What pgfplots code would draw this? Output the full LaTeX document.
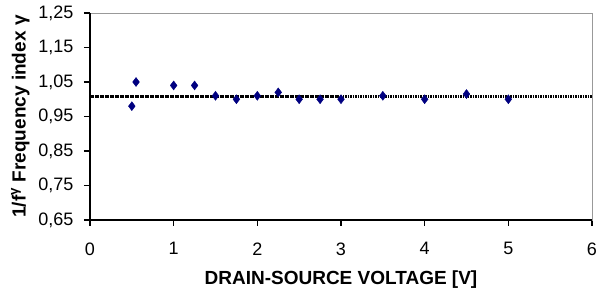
\documentclass[border=0pt]{standalone}
\usepackage{pgfplots}
\pgfplotsset{compat=1.18}
\usetikzlibrary{calc}
\usepackage{fontspec}
\setmainfont{Liberation Sans}
\definecolor{navy}{RGB}{0,0,128}
\begin{document}
\begin{tikzpicture}
\begin{axis}[
  scale only axis,
  width=502bp, height=207bp,
  xmin=0, xmax=6, ymin=0.65, ymax=1.25,
  xtick={0,1,2,3,4,5,6},
  ytick={0.65,0.75,0.85,0.95,1.05,1.15,1.25},
  tick align=outside,
  major tick length=6bp,
  tick style={black, line width=1.2bp},
  axis line style={gray!80, line width=0.8bp},
  ticklabel style={font=\fontsize{18bp}{21bp}\selectfont},
  /pgf/number format/assume math mode=true,
  yticklabel style={/pgf/number format/use comma, /pgf/number format/fixed, /pgf/number format/fixed zerofill, /pgf/number format/precision=2, xshift=-7bp},
  xticklabel style={yshift=-13bp},
  xtick pos=bottom, ytick pos=left,
  xlabel={DRAIN-SOURCE VOLTAGE [V]},
  ylabel={1/f\textsuperscript{γ} Frequency index γ},
  label style={font=\fontsize{19bp}{22bp}\selectfont\bfseries},
  xlabel style={yshift=-9bp},
  ylabel style={yshift=2bp},
  clip=false,
]
\addplot[draw=black, solid, dash pattern=on 1.6bp off 0.9bp, line width=2.2bp] coordinates {(0,1.008) (6,1.008)};
\addplot[only marks, mark=diamond*, mark size=4.5bp, color=navy, mark options={fill=navy, scale=1}] coordinates {
(0.5,0.98) (0.55,1.05) (1.0,1.04) (1.25,1.04) (1.5,1.01) (1.75,1.00) (2.0,1.01) (2.25,1.02)
(2.5,1.00) (2.75,1.00) (3.0,1.00) (3.5,1.01) (4.0,1.00) (4.5,1.015) (5.0,1.00)
};
\draw[black, line width=1.6bp] (rel axis cs:0,1) -- (rel axis cs:0,0) -- (rel axis cs:1,0);
\end{axis}
\pgfresetboundingbox
\path ($(current axis.south west)+(-90bp,-72bp)$) rectangle ($(current axis.north east)+(5bp,13bp)$);
\end{tikzpicture}
\end{document}
